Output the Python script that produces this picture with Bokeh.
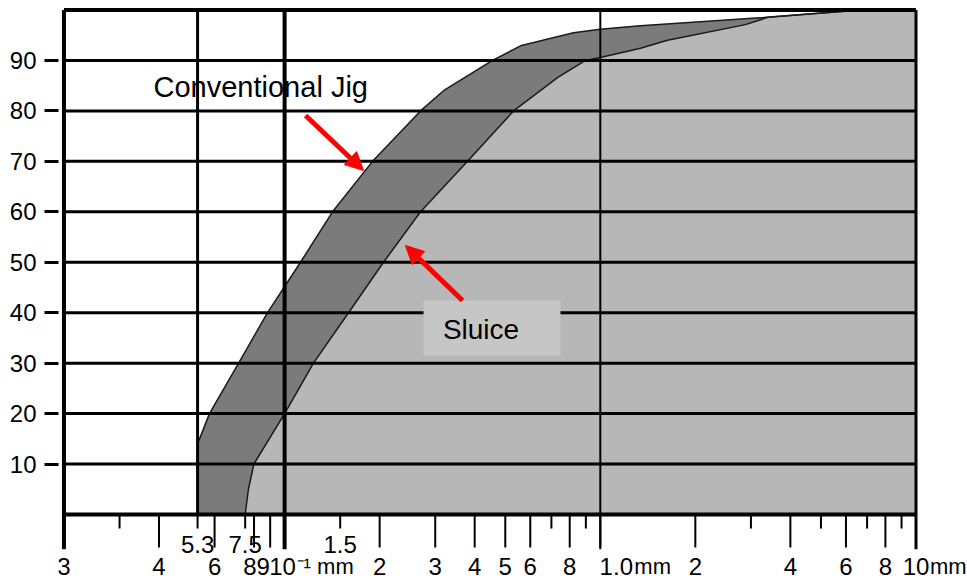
from bokeh.plotting import figure
from bokeh.models import Range1d, FixedTicker, Arrow, NormalHead
from bokeh.core.properties import value
from bokeh.embed import file_html
from bokeh.resources import INLINE

# ---------------- data ----------------
# Conventional Jig recovery curve (upper/left boundary of dark band)
jig_x = [0.053, 0.053, 0.0578, 0.0715, 0.0883, 0.1123, 0.1418, 0.1899,
         0.2695, 0.3187, 0.4556, 0.5587, 0.8224, 1.0, 1.341, 3.288, 6.67, 10.0]
jig_y = [0, 14, 20, 30, 40, 50, 60, 70, 80, 84.0, 90, 92.9, 95.5, 96.2, 96.9,
         98.5, 100, 100]
# Sluice recovery curve (lower/right boundary of dark band)
sluice_x = [0.075, 0.0768, 0.0799, 0.1, 0.1234, 0.1594, 0.2057, 0.2695,
            0.3797, 0.5311, 0.732, 0.8976, 1.0, 1.341, 1.633, 2.884, 3.4,
            6.67, 10.0]
sluice_y = [0, 5, 10, 20, 30, 40, 50, 60, 70, 80, 86.6, 90, 90.6, 92.4, 94.0,
            97.1, 98.55, 100, 100]

y_ticks = [10, 20, 30, 40, 50, 60, 70, 80, 90]
y_labels = ["10", "20", "30", "40", "50", "60", "70", "80", "90"]

long_ticks = [0.02, 0.04, 0.06, 0.08, 0.09, 0.1, 0.2, 0.3, 0.4, 0.5, 0.6, 0.8,
              1.0, 2, 4, 6, 8, 10]
long_labels = ["3", "4", "6", "8", "9", "10", "2", "3", "4", "5", "6", "8",
               "1.0", "2", "4", "6", "8", "10"]
short_ticks = [0.03, 0.053, 0.075, 0.15, 0.7, 0.9, 3, 5, 7, 9]
upper_ticks = [0.053, 0.075, 0.15]
upper_labels = ["5.3", "7.5", "1.5"]
unit_ticks = [0.1, 1.0, 10]
unit_labels = ["\u207b\u00b9 mm", "mm", "mm"]
major_vlines = [0.02, 0.1, 1.0, 10]
minor_vlines = [0.053]

# ---------------- style ----------------
DARK = "#7b7b7b"
LIGHT = "#b7b7b7"
BOX = "#c6c6c6"
FONT = "Liberation Sans"
long_dx = [0, 0, 0, -4, -7, -2, 0, 0, 0, 0, 0, 0, 16, 0, 0, 0, 0, 0]
unit_dx = [12, 34, 14]
vline_widths = [4, 4, 2, 3]

p = figure(width=967, height=581, x_axis_type="log", x_axis_location=None,
           x_range=Range1d(0.019219, 14.56), y_range=Range1d(-13.28, 101.883),
           output_backend="svg", toolbar_location=None,
           min_border_left=58, min_border_right=0, min_border_top=0,
           min_border_bottom=0)
p.outline_line_color = None
p.xgrid.visible = False
p.ygrid.visible = False
p.background_fill_color = "white"
p.border_fill_color = "white"

# y axis
p.yaxis.ticker = FixedTicker(ticks=y_ticks)
p.yaxis.major_label_overrides = {t: l for t, l in zip(y_ticks, y_labels)}
p.yaxis.axis_line_color = None
p.yaxis.major_tick_in = 0
p.yaxis.major_tick_out = 14
p.yaxis.major_tick_line_width = 3
p.yaxis.minor_tick_line_color = None
p.yaxis.major_label_standoff = 8
p.yaxis.major_label_text_font = FONT
p.yaxis.major_label_text_font_size = "24px"
p.yaxis.major_label_text_color = "black"

# filled regions
p.varea(x=jig_x, y1=0, y2=jig_y, fill_color=DARK)
p.varea(x=sluice_x, y1=0, y2=sluice_y, fill_color=LIGHT)
p.line(jig_x[1:], jig_y[1:], line_color="#1a1a1a", line_width=1.5)
p.line(sluice_x, sluice_y, line_color="#1a1a1a", line_width=1.5)

# grid / frame lines
p.segment(x0=0.02, x1=10, y0=y_ticks, y1=y_ticks, line_color="black", line_width=3)
p.segment(x0=0.02, x1=10, y0=[0, 100], y1=[0, 100], line_color="black", line_width=4)
p.segment(x0=major_vlines, x1=major_vlines, y0=100, y1=-6.9, line_color="black",
          line_width=vline_widths)
p.segment(x0=minor_vlines, x1=minor_vlines, y0=100, y1=0, line_color="black",
          line_width=3)

# x ticks
p.segment(x0=long_ticks, x1=long_ticks, y0=0, y1=-6.54, line_color="black", line_width=2)
p.segment(x0=short_ticks, x1=short_ticks, y0=0, y1=-2.78, line_color="black", line_width=2)

# x tick labels
p.text(x=long_ticks, y=-10.31, text=long_labels, x_offset=long_dx, text_align="center",
       text_baseline="middle", text_font=value(FONT), text_font_size="24px",
       text_color="black")
p.text(x=upper_ticks, y=-5.95, text=upper_labels, text_align="center",
       text_baseline="middle", text_font=value(FONT), text_font_size="24px",
       text_color="black")
p.text(x=unit_ticks, y=-10.31, text=unit_labels, x_offset=unit_dx, text_align="left",
       text_baseline="middle", text_font=value(FONT), text_font_size="22px",
       text_color="black")

# annotations
p.quad(left=0.2754, right=0.7481, bottom=31.52, top=42.42, fill_color=BOX,
       line_color=None)
p.text(x=[0.4189], y=[36.67], text=["Sluice"], text_align="center",
       text_baseline="middle", text_font=value(FONT), text_font_size="28px",
       text_color="black")
p.text(x=[0.03844], y=[84.64], text=["Conventional Jig"], text_align="left",
       text_baseline="middle", text_font=value(FONT), text_font_size="29px",
       text_color="black")

p.add_layout(Arrow(end=NormalHead(size=18, fill_color="red", line_color="red"),
                   x_start=0.1165, y_start=79.09, x_end=0.1778, y_end=68.19,
                   line_color="red", line_width=5))
p.add_layout(Arrow(end=NormalHead(size=18, fill_color="red", line_color="red"),
                   x_start=0.3661, y_start=42.42, x_end=0.2415, y_end=53.32,
                   line_color="red", line_width=5))

open("out.html", "w").write(file_html(p, INLINE))
